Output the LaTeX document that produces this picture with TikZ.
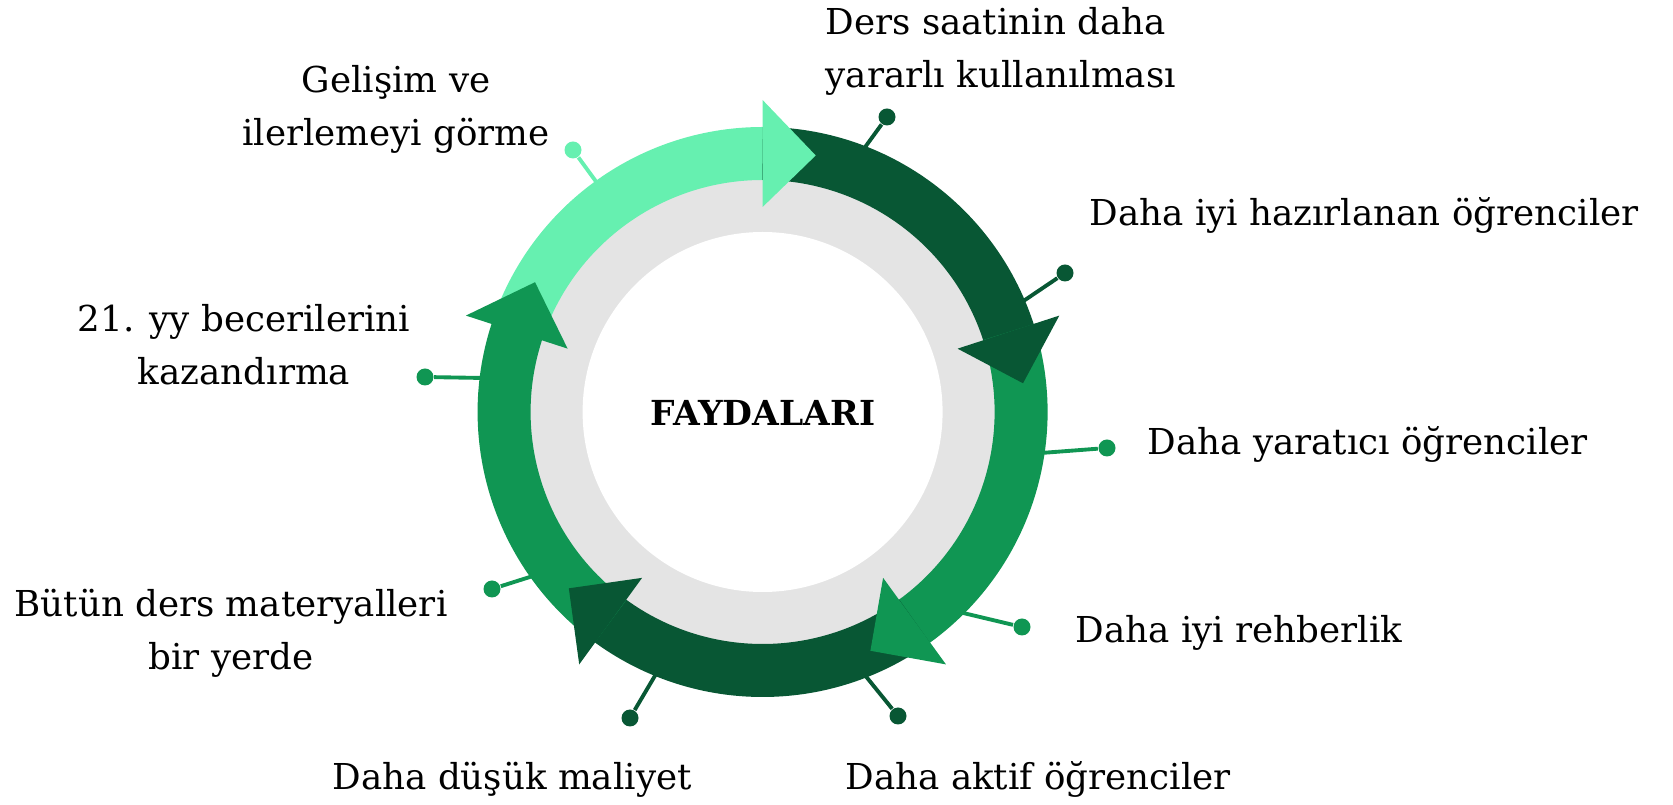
\documentclass[tikz,border=0pt]{standalone}
\usepackage{fontspec}
\setmainfont{DejaVu Serif}
\usetikzlibrary{calc}

\definecolor{mintg}{RGB}{102,240,176}
\definecolor{darkg}{RGB}{8,87,52}
\definecolor{midg}{RGB}{16,150,83}
\definecolor{ringgray}{RGB}{228,228,228}

\tikzset{band/.style={line width=0.53cm}}
\tikzset{pinline/.style={line width=1.1pt}}
\tikzset{pindot/.style={circle,fill,inner sep=0pt,minimum size=0.17cm}}
\tikzset{lbl/.style={font=\fontsize{10.15}{15.1}\selectfont,inner sep=0pt}}

\begin{document}
\begin{tikzpicture}
        \useasboundingbox (0,0) rectangle (16.73,8.05);
        % pins (drawn first, the ring covers their inner ends)
        \coordinate (r1) at (6.00,6.18);
        \coordinate (r2) at (8.63,6.55);
        \coordinate (r3) at (10.22,5.03);
        \coordinate (r4) at (10.41,3.52);
        \coordinate (r5) at (9.59,1.93);
        \coordinate (r6) at (8.64,1.31);
        \coordinate (r7) at (6.56,1.31);
        \coordinate (r8) at (5.33,2.29);
        \coordinate (r9) at (4.84,4.27);
        \node[pindot,mintg] (p1) at (5.73,6.55) {};
        \node[pindot,darkg] (p2) at (8.87,6.88) {};
        \node[pindot,darkg] (p3) at (10.65,5.32) {};
        \node[pindot,midg] (p4) at (11.07,3.57) {};
        \node[pindot,midg] (p5) at (10.22,1.78) {};
        \node[pindot,darkg] (p6) at (8.98,0.89) {};
        \node[pindot,darkg] (p7) at (6.30,0.87) {};
        \node[pindot,midg] (p8) at (4.92,2.16) {};
        \node[pindot,midg] (p9) at (4.25,4.28) {};
        \draw[pinline,mintg] (r1) -- (p1);
        \draw[pinline,darkg] (r2) -- (p2);
        \draw[pinline,darkg] (r3) -- (p3);
        \draw[pinline,midg] (r4) -- (p4);
        \draw[pinline,midg] (r5) -- (p5);
        \draw[pinline,darkg] (r6) -- (p6);
        \draw[pinline,darkg] (r7) -- (p7);
        \draw[pinline,midg] (r8) -- (p8);
        \draw[pinline,midg] (r9) -- (p9);

        \begin{scope}[shift={(7.626,3.93)}]
        % gray ring and white disc
        \fill[ringgray] (0,0) circle (2.33);
        \fill[white] (0,0) circle (1.80);
        % arrow bodies
        \draw[band,mintg] (162:2.585) arc (162:89:2.585);
        \draw[band,darkg] (90:2.585) arc (90:17:2.585);
        \draw[band,midg] (18:2.585) arc (18:-55:2.585);
        \draw[band,darkg] (-54:2.585) arc (-54:-127:2.585);
        \draw[band,midg] (-126:2.585) arc (-126:-199:2.585);
        % arrow heads
        \fill[mintg] (90:2.05) -- (90:3.12) -- (78.3:2.62) -- cycle;
        \fill[darkg] (18:2.05) -- (18:3.12) -- (6.3:2.62) -- cycle;
        \fill[midg] (-54:2.05) -- (-54:3.12) -- (-65.7:2.62) -- cycle;
        \fill[darkg] (-126:2.05) -- (-126:3.12) -- (-137.7:2.62) -- cycle;
        \fill[midg] (162:2.05) -- (162:3.12) -- (150.3:2.62) -- cycle;
        \end{scope}

        \node[lbl,font=\fontsize{9.8}{15.1}\selectfont\bfseries,anchor=base] (title) at (7.63,3.79) {FAYDALARI};
        % labels (base = last line)
        \node[lbl,align=center,anchor=base] (t1) at (3.96,6.59) {Gelişim ve\\ilerlemeyi görme};
        \node[lbl,align=left,anchor=base west] (t2) at (8.25,7.17) {Ders saatinin daha\\yararlı kullanılması};
        \node[lbl,anchor=base west] (t3) at (10.89,5.79) {Daha iyi hazırlanan öğrenciler};
        \node[lbl,anchor=base west] (t4) at (11.47,3.50) {Daha yaratıcı öğrenciler};
        \node[lbl,anchor=base west] (t5) at (10.75,1.62) {Daha iyi rehberlik};
        \node[lbl,anchor=base west] (t6) at (8.45,0.15) {Daha aktif öğrenciler};
        \node[lbl,anchor=base west] (t7) at (3.32,0.15) {Daha düşük maliyet};
        \node[lbl,align=center,anchor=base] (t8) at (2.31,1.35) {Bütün ders materyalleri\\bir yerde};
        \node[lbl,align=center,anchor=base] (t9) at (2.44,4.20) {21. yy becerilerini\\kazandırma};
    \end{tikzpicture}
\end{document}
